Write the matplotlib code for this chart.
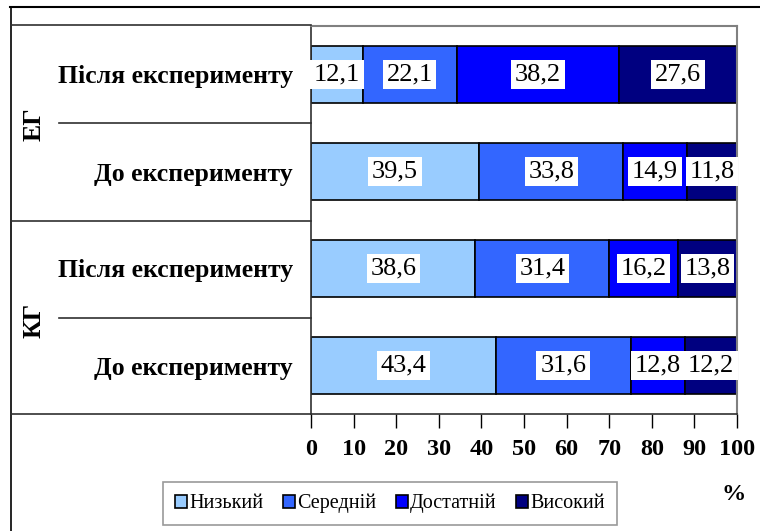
import numpy as np
import matplotlib
matplotlib.use("Agg")
import matplotlib.pyplot as plt
from matplotlib.lines import Line2D
from matplotlib.patches import Patch

plt.rcParams["font.family"] = "serif"
plt.rcParams["font.serif"] = ["Liberation Serif", "DejaVu Serif"]

W, H = 760, 531

rows = ["Після експерименту", "До експерименту", "Після експерименту", "До експерименту"]
groups = ["ЕГ", "КГ"]
levels = ["Низький", "Середній", "Достатній", "Високий"]
colors = ["#99CCFF", "#3366FF", "#0000FF", "#000080"]

low    = [12.1, 39.5, 38.6, 43.4]
mid    = [22.1, 33.8, 31.4, 31.6]
suff   = [38.2, 14.9, 16.2, 12.8]
high   = [27.6, 11.8, 13.8, 12.2]
series = [low, mid, suff, high]

def fx(px):
    return px / W

def fy(py):
    return 1 - py / H

fig = plt.figure(figsize=(W / 100, H / 100), dpi=100)
ax = fig.add_axes([fx(311), fy(414), fx(737) - fx(311), fy(26) - fy(414)])

y = np.arange(len(rows))
left = np.zeros(len(rows))
for vals, c, name in zip(series, colors, levels):
    bars = ax.barh(y, vals, left=left, height=0.59, color=c,
                   edgecolor="black", linewidth=1.2, label=name)
    ax.bar_label(bars, labels=[f"{v:.1f}".replace(".", ",") for v in vals],
                 label_type="center", fontsize=19,
                 bbox=dict(boxstyle="square,pad=0.14", fc="white", ec="none"))
    left += np.array(vals)

ax.set_xlim(0, 100)
ax.set_ylim(len(rows) - 0.5, -0.5)
ax.set_xticks(np.arange(0, 101, 10))
ax.set_xticklabels([str(v) for v in range(0, 101, 10)], fontsize=17.5, fontweight="bold")
ax.set_yticks(y)
ax.set_yticklabels(rows, fontsize=18.5, fontweight="bold")
ax.tick_params(axis="y", length=0, pad=13)
ax.tick_params(axis="x", length=10, width=1, direction="out", pad=8)
for s in ["top", "right"]:
    ax.spines[s].set_color("#808080")
    ax.spines[s].set_linewidth(1.5)
for s in ["left", "bottom"]:
    ax.spines[s].set_color("#303030")
    ax.spines[s].set_linewidth(1.2)

# table and frame lines
def hline(x0, x1, yy, c="#303030", lw=1.2):
    fig.add_artist(Line2D([fx(x0), fx(x1)], [fy(yy), fy(yy)], color=c, lw=lw,
                          transform=fig.transFigure))

def vline(xx, y0, y1, c="#303030", lw=1.2):
    fig.add_artist(Line2D([fx(xx), fx(xx)], [fy(y0), fy(y1)], color=c, lw=lw,
                          transform=fig.transFigure))

hline(10, 760, 7, c="black", lw=1.5)
vline(11, 7, 531, c="black", lw=1.2)
hline(11, 311, 25)
hline(59, 311, 123)
hline(11, 311, 221)
hline(59, 311, 318)
hline(11, 311, 414)

fig.text(fx(34), fy(124), groups[0], rotation=90, ha="center", va="center",
         fontsize=18.5, fontweight="bold")
fig.text(fx(34), fy(320), groups[1], rotation=90, ha="center", va="center",
         fontsize=18.5, fontweight="bold")

fig.text(fx(734), fy(495), "%", ha="center", va="center", fontsize=17.5, fontweight="bold")

handles = [Patch(facecolor=c, edgecolor="black", linewidth=1.2) for c in colors]
leg = fig.legend(handles, levels, loc="center", bbox_to_anchor=(fx(390), fy(503.5)),
                 ncol=4, fontsize=14.5, frameon=True, fancybox=False,
                 edgecolor="#808080", handlelength=0.6, handleheight=0.6,
                 handletextpad=0.12, columnspacing=0.95, borderpad=0.6,
                 borderaxespad=0)
leg.get_frame().set_linewidth(1.2)

fig.savefig("out.png", dpi=100)
